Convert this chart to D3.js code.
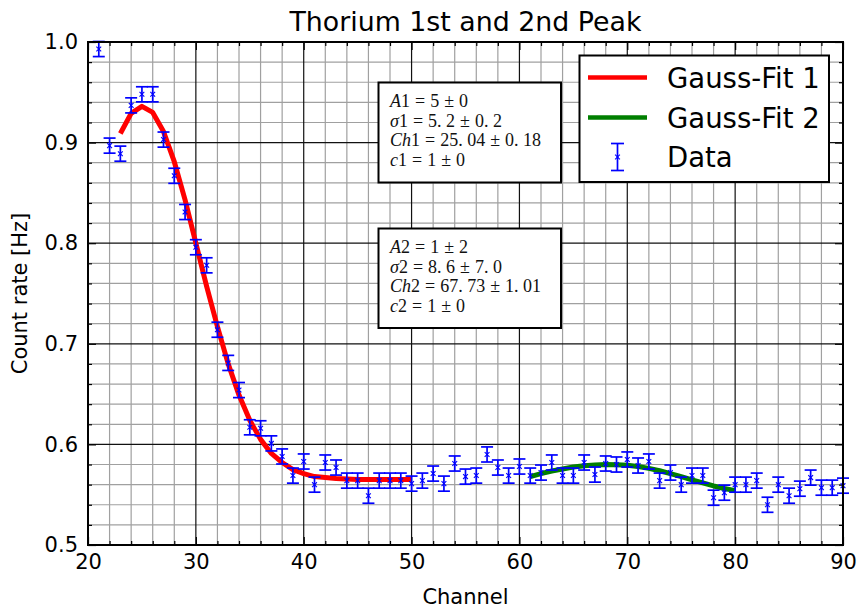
<!DOCTYPE html>
<html>
<head>
<meta charset="utf-8">
<script src="https://cdn.jsdelivr.net/npm/d3@7"></script>
<style>
  html, body { margin: 0; padding: 0; background: #fff; }
  svg { display: block; }
</style>
</head>
<body>
<svg id="chart" width="859" height="610"></svg>
<script>
// Measured count rate per channel (Hz)
const channels = [21,22,23,24,25,26,27,28,29,30,31,32,33,34,35,36,37,38,39,40,
  41,42,43,44,45,46,47,48,49,50,51,52,53,54,55,56,57,58,59,60,
  61,62,63,64,65,66,67,68,69,70,71,72,73,74,75,76,77,78,79,80,
  81,82,83,84,85,86,87,88,89,90];
const rates = [0.993,0.897,0.889,0.937,0.948,0.948,0.903,0.867,0.831,0.796,
  0.778,0.714,0.681,0.654,0.617,0.616,0.601,0.588,0.569,0.583,
  0.560,0.582,0.577,0.564,0.564,0.549,0.564,0.564,0.564,0.561,
  0.564,0.571,0.561,0.581,0.568,0.569,0.590,0.577,0.569,0.578,
  0.569,0.572,0.582,0.569,0.569,0.582,0.570,0.581,0.580,0.585,
  0.579,0.583,0.564,0.572,0.560,0.569,0.569,0.547,0.552,0.560,
  0.560,0.564,0.540,0.560,0.549,0.556,0.567,0.557,0.557,0.559];
const rateError = 0.0075;

// Gauss fit 1, evaluated at channels 23..50
const fit1Channels = [23,24,25,26,27,28,29,30,31,32,33,34,35,36,37,38,39,40,
  41,42,43,44,45,46,47,48,49,50];
const fit1Values = [0.909,0.929,0.936,0.930,0.911,0.881,0.843,0.800,0.757,0.717,
  0.680,0.649,0.624,0.605,0.591,0.582,0.575,0.571,
  0.568,0.567,0.566,0.5655,0.5652,0.5651,0.565,0.565,0.565,0.565];

// Gauss fit 2, evaluated at channels 61..80
const fit2Channels = [61,62,63,64,65,66,67,68,69,70,71,72,73,74,75,76,77,78,79,80];
const fit2Values = [0.568,0.571,0.5735,0.5755,0.5775,0.5788,0.5796,0.580,0.5798,0.5792,
  0.578,0.5762,0.5738,0.571,0.568,0.5648,0.5617,0.5587,0.5562,0.554];

// Fit parameter boxes: [name, index, value, uncertainty]
const fit1Params = [["A","1","5","0"],["σ","1","5.2","0.2"],["Ch","1","25.04","0.18"],["c","1","1","0"]];
const fit2Params = [["A","2","1","2"],["σ","2","8.6","7.0"],["Ch","2","67.73","1.01"],["c","2","1","0"]];

const xTicks = [20,30,40,50,60,70,80,90];
const yTicks = [0.5,0.6,0.7,0.8,0.9,1.0];
const xMinor = [22,24,26,28,32,34,36,38,42,44,46,48,52,54,56,58,62,64,66,68,72,74,76,78,82,84,86,88];
const yMinor = [0.52,0.54,0.56,0.58,0.62,0.64,0.66,0.68,0.72,0.74,0.76,0.78,0.82,0.84,0.86,0.88,0.92,0.94,0.96,0.98];

const titleText = "Thorium 1st and 2nd Peak";
const xLabel = "Channel";
const yLabel = "Count rate [Hz]";
const legendLabels = ["Gauss-Fit 1", "Gauss-Fit 2", "Data"];

const svg = d3.select("#chart");
const L = 88, R = 843, T = 42, B = 545;
const x = d3.scaleLinear().domain([20, 90]).range([L, R]);
const y = d3.scaleLinear().domain([0.5, 1.0]).range([B, T]);
const sans = "'DejaVu Sans', sans-serif";
const serif = "'Liberation Serif', 'DejaVu Serif', serif";

// grid
const grid = svg.append("g");
grid.selectAll(".gxm").data(xMinor).enter().append("line")
  .attr("x1", d => x(d)).attr("x2", d => x(d)).attr("y1", T).attr("y2", B)
  .attr("stroke", "#a0a0a0").attr("stroke-width", 1.2);
grid.selectAll(".gym").data(yMinor).enter().append("line")
  .attr("y1", d => y(d)).attr("y2", d => y(d)).attr("x1", L).attr("x2", R)
  .attr("stroke", "#a0a0a0").attr("stroke-width", 1.2);
grid.selectAll(".gx").data(xTicks.slice(1, -1)).enter().append("line")
  .attr("x1", d => x(d)).attr("x2", d => x(d)).attr("y1", T).attr("y2", B)
  .attr("stroke", "#111").attr("stroke-width", 1.2);
grid.selectAll(".gy").data(yTicks.slice(1, -1)).enter().append("line")
  .attr("y1", d => y(d)).attr("y2", d => y(d)).attr("x1", L).attr("x2", R)
  .attr("stroke", "#111").attr("stroke-width", 1.2);

// inward ticks on all four sides
function tickAxis(axis, transform) {
  const g = svg.append("g").attr("transform", transform).call(axis);
  g.select(".domain").remove();
  g.selectAll("text").remove();
  g.selectAll("line").attr("stroke", "#000").attr("stroke-width", 1.2);
  return g;
}
tickAxis(d3.axisBottom(x).tickValues(xTicks).tickSize(-8), `translate(0,${B})`);
tickAxis(d3.axisBottom(x).tickValues(xMinor).tickSize(-4), `translate(0,${B})`);
tickAxis(d3.axisTop(x).tickValues(xTicks).tickSize(-8), `translate(0,${T})`);
tickAxis(d3.axisTop(x).tickValues(xMinor).tickSize(-4), `translate(0,${T})`);
tickAxis(d3.axisLeft(y).tickValues(yTicks).tickSize(-8), `translate(${L},0)`);
tickAxis(d3.axisLeft(y).tickValues(yMinor).tickSize(-4), `translate(${L},0)`);
tickAxis(d3.axisRight(y).tickValues(yTicks).tickSize(-8), `translate(${R},0)`);
tickAxis(d3.axisRight(y).tickValues(yMinor).tickSize(-4), `translate(${R},0)`);

// tick labels
const xAx = svg.append("g").attr("transform", `translate(0,${B})`)
  .call(d3.axisBottom(x).tickValues(xTicks).tickSize(0).tickPadding(9).tickFormat(d3.format("d")));
xAx.select(".domain").remove();
xAx.selectAll("text").attr("font-family", sans).attr("font-size", 21).attr("fill", "#000");
const yAx = svg.append("g").attr("transform", `translate(${L},0)`)
  .call(d3.axisLeft(y).tickValues(yTicks).tickSize(0).tickPadding(10).tickFormat(d3.format(".1f")));
yAx.select(".domain").remove();
yAx.selectAll("text").attr("font-family", sans).attr("font-size", 21).attr("fill", "#000");

// fit curves
const line = d3.line().x(d => x(d[0])).y(d => y(d[1]));
svg.append("path").datum(fit1Channels.map((c, i) => [c, fit1Values[i]]))
  .attr("d", line).attr("fill", "none").attr("stroke", "#ff0000")
  .attr("stroke-width", 5).attr("stroke-linejoin", "round");
svg.append("path").datum(fit2Channels.map((c, i) => [c, fit2Values[i]]))
  .attr("d", line).attr("fill", "none").attr("stroke", "#007f00")
  .attr("stroke-width", 5).attr("stroke-linejoin", "round");

// data with error bars
function errorBar(g, cx, cy, half, cap) {
  g.append("line").attr("x1", cx).attr("x2", cx).attr("y1", cy - half).attr("y2", cy + half);
  g.append("line").attr("x1", cx - cap).attr("x2", cx + cap).attr("y1", cy - half).attr("y2", cy - half);
  g.append("line").attr("x1", cx - cap).attr("x2", cx + cap).attr("y1", cy + half).attr("y2", cy + half);
  const m = 2.4;
  g.append("line").attr("x1", cx - m).attr("x2", cx + m).attr("y1", cy - m).attr("y2", cy + m).attr("stroke-width", 1.1);
  g.append("line").attr("x1", cx - m).attr("x2", cx + m).attr("y1", cy + m).attr("y2", cy - m).attr("stroke-width", 1.1);
}
const pts = svg.append("g").attr("stroke", "#0000ff").attr("stroke-width", 1.7);
channels.forEach((c, i) => {
  const cy = y(rates[i]);
  const half = y(rates[i] - rateError) - cy;
  errorBar(pts, x(c), cy, half, 6);
});

// frame
svg.append("rect").attr("x", L).attr("y", T).attr("width", R - L).attr("height", B - T)
  .attr("fill", "none").attr("stroke", "#000").attr("stroke-width", 2);

// parameter boxes
function paramBox(params, top, bottom) {
  const g = svg.append("g");
  g.append("rect").attr("x", 378.5).attr("y", top).attr("width", 182.5).attr("height", bottom - top)
    .attr("fill", "#fff").attr("stroke", "#000").attr("stroke-width", 2);
  params.forEach((p, i) => {
    const t = g.append("text").attr("x", 390).attr("y", top + 24.5 + i * 19.6)
      .attr("font-family", serif).attr("font-size", 18).attr("fill", "#111");
    t.append("tspan").attr("font-style", "italic").text(p[0]);
    t.append("tspan").text(p[1]);
    t.append("tspan").attr("dx", 5).text("=");
    const parts = p[2].split(".");
    t.append("tspan").attr("dx", 5).text(parts[0] + (parts.length > 1 ? "." : ""));
    if (parts.length > 1) t.append("tspan").attr("dx", 4.5).text(parts[1]);
    t.append("tspan").attr("dx", 5).text("±");
    const parts2 = p[3].split(".");
    t.append("tspan").attr("dx", 5).text(parts2[0] + (parts2.length > 1 ? "." : ""));
    if (parts2.length > 1) t.append("tspan").attr("dx", 4.5).text(parts2[1]);
  });
}
paramBox(fit1Params, 82.5, 182.5);
paramBox(fit2Params, 228.5, 328);

// legend
const lg = svg.append("g");
lg.append("rect").attr("x", 579.5).attr("y", 55.5).attr("width", 249.5).attr("height", 126.5)
  .attr("fill", "#fff").attr("stroke", "#000").attr("stroke-width", 2);
const legendRows = [77.5, 117.5, 157];
lg.append("line").attr("x1", 588).attr("x2", 647).attr("y1", legendRows[0]).attr("y2", legendRows[0])
  .attr("stroke", "#ff0000").attr("stroke-width", 4.5);
lg.append("line").attr("x1", 588).attr("x2", 647).attr("y1", legendRows[1]).attr("y2", legendRows[1])
  .attr("stroke", "#007f00").attr("stroke-width", 4.5);
const lgPts = lg.append("g").attr("stroke", "#0000ff").attr("stroke-width", 1.7);
errorBar(lgPts, 617.5, legendRows[2], 13.5, 6.5);
legendLabels.forEach((lab, i) => {
  lg.append("text").attr("x", 667).attr("y", legendRows[i] + 10)
    .attr("font-family", sans).attr("font-size", 27.5).attr("fill", "#000").text(lab);
});

// titles
svg.append("text").attr("x", (L + R) / 2).attr("y", 31).attr("text-anchor", "middle")
  .attr("font-family", sans).attr("font-size", 26.8).attr("fill", "#000").text(titleText);
svg.append("text").attr("x", (L + R) / 2).attr("y", 604).attr("text-anchor", "middle")
  .attr("font-family", sans).attr("font-size", 21).attr("fill", "#000").text(xLabel);
svg.append("text").attr("transform", `translate(27,${(T + B) / 2}) rotate(-90)`)
  .attr("text-anchor", "middle")
  .attr("font-family", sans).attr("font-size", 21).attr("fill", "#000").text(yLabel);
</script>
</body>
</html>
